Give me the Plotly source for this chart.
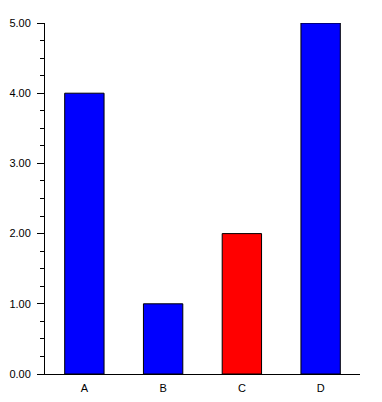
import plotly.graph_objects as go

categories = ["A", "B", "C", "D"]
values = [4, 1, 2, 5]
bar_colors = ["#0000FF", "#0000FF", "#FF0000", "#0000FF"]
y_ticks = [0, 1, 2, 3, 4, 5]
y_tick_labels = ["0.00", "1.00", "2.00", "3.00", "4.00", "5.00"]

fig = go.Figure(go.Bar(
    x=categories, y=values,
    marker=dict(color=bar_colors, line=dict(color="black", width=1)),
    width=0.5,
    hoverinfo="skip",
))

fig.update_layout(
    width=382, height=402,
    margin=dict(l=45, r=22, t=23, b=28, autoexpand=False),
    plot_bgcolor="white", paper_bgcolor="white",
    font=dict(family="Liberation Sans, Arial, sans-serif", size=11, color="black"),
    showlegend=False,
    bargap=0.5,
)
fig.update_xaxes(
    showline=True, linecolor="black", linewidth=1,
    ticks="", showgrid=False, zeroline=False, automargin=False,
    ticklabelstandoff=4,
    tickfont=dict(size=11),
)
fig.update_yaxes(
    range=[0, 5], tickvals=y_ticks, ticktext=y_tick_labels,
    showline=True, linecolor="black", linewidth=1,
    ticks="outside", ticklen=7, tickcolor="black", tickwidth=1,
    minor=dict(dtick=0.25, ticks="outside", ticklen=4, tickcolor="black", tickwidth=1, showgrid=False),
    showgrid=False, zeroline=False, automargin=False,
    ticklabelstandoff=4,
    tickfont=dict(size=11),
)

fig.write_html(
    "out.html",
    config={"displayModeBar": False, "staticPlot": True},
    post_script="document.body.style.margin='0px';document.body.style.overflow='hidden';",
)
